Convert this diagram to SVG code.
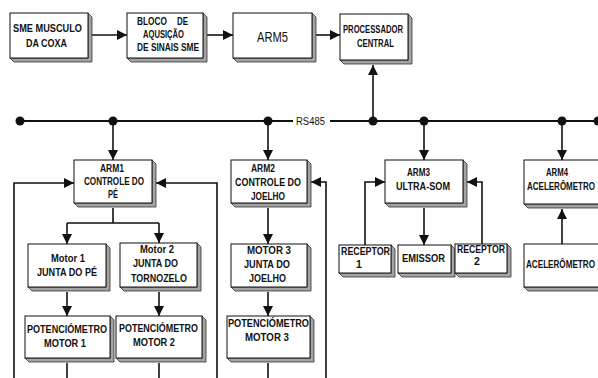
<svg xmlns="http://www.w3.org/2000/svg" width="598" height="378" viewBox="0 0 598 378">
<defs>
<style>
.f{fill:#fff;stroke:#111;stroke-width:1}
.s{fill:#a4a4a4;stroke:#333;stroke-width:0.8}
.t{font-family:"Liberation Sans",Arial,sans-serif;font-weight:bold;font-size:10.5px;fill:#111}
.c{fill:none;stroke:#111;stroke-width:1.6}
.bus{fill:none;stroke:#111;stroke-width:2}
.d{fill:#111}
</style>
<marker id="ah" markerUnits="userSpaceOnUse" markerWidth="10" markerHeight="10" viewBox="0 0 10 10" refX="10" refY="5" orient="auto">
<path d="M0,0 L10,5 L0,10 z" fill="#111"/>
</marker>
</defs>
<rect width="598" height="378" fill="#fff"/>

<g id="connectors">
<path class="c" d="M88,35 H127" marker-end="url(#ah)"/>
<path class="c" d="M207,35 H233" marker-end="url(#ah)"/>
<path class="c" d="M316,35 H340" marker-end="url(#ah)"/>
<path class="c" d="M373,121 V65" marker-end="url(#ah)"/>
<path class="bus" d="M20,121 H293 M330,121 H598"/>
<path class="c" d="M113,121 V160" marker-end="url(#ah)"/>
<path class="c" d="M268,121 V160" marker-end="url(#ah)"/>
<path class="c" d="M424,121 V160" marker-end="url(#ah)"/>
<path class="c" d="M562,121 V160" marker-end="url(#ah)"/>
<path class="c" d="M113,208 V223 M67,223 H159"/>
<path class="c" d="M67,223 V244" marker-end="url(#ah)"/>
<path class="c" d="M159,223 V243" marker-end="url(#ah)"/>
<path class="c" d="M67,292 V316" marker-end="url(#ah)"/>
<path class="c" d="M159,292 V316" marker-end="url(#ah)"/>
<path class="c" d="M67,363 V378 M159,363 V378"/>
<path class="c" d="M14,378 V183 H74" marker-end="url(#ah)"/>
<path class="c" d="M217,378 V183 H156" marker-end="url(#ah)"/>
<path class="c" d="M268,208 V244" marker-end="url(#ah)"/>
<path class="c" d="M268,292 V316" marker-end="url(#ah)"/>
<path class="c" d="M268,363 V378"/>
<path class="c" d="M326,378 V182 H311" marker-end="url(#ah)"/>
<path class="c" d="M424,208 V245" marker-end="url(#ah)"/>
<path class="c" d="M365,245 V182 H385" marker-end="url(#ah)"/>
<path class="c" d="M482,244 V182 H467" marker-end="url(#ah)"/>
<path class="c" d="M562,244 V209" marker-end="url(#ah)"/>
<circle class="d" cx="20" cy="121" r="4.5"/>
<circle class="d" cx="113" cy="121" r="4.5"/>
<circle class="d" cx="268" cy="121" r="4.5"/>
<circle class="d" cx="373" cy="121" r="4.5"/>
<circle class="d" cx="424" cy="121" r="4.5"/>
<circle class="d" cx="562" cy="121" r="4.5"/>
<circle class="d" cx="598" cy="121" r="4.5"/>
<text class="t" x="296" y="125" textLength="29" lengthAdjust="spacingAndGlyphs" style="font-weight:normal;font-size:11.5px">RS485</text>
</g>

<g id="n_sme">
<polygon class="s" points="88,13 92,17 92,62 14,62 10,58 88,58"/>
<rect class="f" x="10" y="13" width="78" height="45"/>
<text class="t" x="13" y="32" textLength="69" lengthAdjust="spacingAndGlyphs" style="font-size:11px">SME MUSCULO</text>
<text class="t" x="26" y="47" textLength="41" lengthAdjust="spacingAndGlyphs" style="font-size:11px">DA COXA</text>
</g>

<g id="n_bloco">
<polygon class="s" points="203,13 207,17 207,62 131,62 127,58 203,58"/>
<rect class="f" x="127" y="13" width="76" height="45"/>
<text class="t" y="25"><tspan x="137" textLength="30" lengthAdjust="spacingAndGlyphs">BLOCO</tspan> <tspan x="177" textLength="11" lengthAdjust="spacingAndGlyphs">DE</tspan></text>
<text class="t" x="143" y="38" textLength="41" lengthAdjust="spacingAndGlyphs">AQUSIÇÃO</text>
<text class="t" x="137" y="51" textLength="62" lengthAdjust="spacingAndGlyphs">DE SINAIS SME</text>
</g>

<g id="n_arm5">
<polygon class="s" points="312,13 316,17 316,62 237,62 233,58 312,58"/>
<rect class="f" x="233" y="13" width="79" height="45"/>
<text class="t" x="257" y="42" textLength="31" lengthAdjust="spacingAndGlyphs" style="font-weight:normal;font-size:14px">ARM5</text>
</g>

<g id="n_proc">
<polygon class="s" points="408,14 412,18 412,64 344,64 340,60 408,60"/>
<rect class="f" x="340" y="14" width="68" height="46"/>
<text class="t" x="343" y="33" textLength="60" lengthAdjust="spacingAndGlyphs" style="font-size:10px">PROCESSADOR</text>
<text class="t" x="357" y="47" textLength="37" lengthAdjust="spacingAndGlyphs" style="font-size:10px">CENTRAL</text>
</g>

<g id="n_arm1">
<polygon class="s" points="152,160 156,164 156,207 78,207 74,203 152,203"/>
<rect class="f" x="74" y="160" width="78" height="43"/>
<text class="t" x="100" y="172" textLength="24" lengthAdjust="spacingAndGlyphs">ARM1</text>
<text class="t" x="84" y="185" textLength="60" lengthAdjust="spacingAndGlyphs">CONTROLE DO</text>
<text class="t" x="108" y="198" textLength="10" lengthAdjust="spacingAndGlyphs">PÉ</text>
</g>

<g id="n_motor1">
<polygon class="s" points="106,244 110,248 110,291 32,291 28,287 106,287"/>
<rect class="f" x="28" y="244" width="78" height="43"/>
<text class="t" x="51" y="262" textLength="34" lengthAdjust="spacingAndGlyphs">Motor 1</text>
<text class="t" x="37" y="276" textLength="60" lengthAdjust="spacingAndGlyphs">JUNTA DO PÉ</text>
</g>

<g id="n_motor2">
<polygon class="s" points="197,243 201,247 201,291 124,291 120,287 197,287"/>
<rect class="f" x="120" y="243" width="77" height="44"/>
<text class="t" x="140" y="253" textLength="34" lengthAdjust="spacingAndGlyphs">Motor 2</text>
<text class="t" x="133" y="267" textLength="45" lengthAdjust="spacingAndGlyphs">JUNTA DO</text>
<text class="t" x="131" y="282" textLength="56" lengthAdjust="spacingAndGlyphs">TORNOZELO</text>
</g>

<g id="n_pot1">
<polygon class="s" points="110,316 114,320 114,362 29,362 25,358 110,358"/>
<rect class="f" x="25" y="316" width="85" height="42"/>
<text class="t" x="27" y="333" textLength="80" lengthAdjust="spacingAndGlyphs" style="font-size:11px">POTENCIÓMETRO</text>
<text class="t" x="44" y="347" textLength="42" lengthAdjust="spacingAndGlyphs" style="font-size:11px">MOTOR 1</text>
</g>

<g id="n_pot2">
<polygon class="s" points="202,316 206,320 206,362 120,362 116,358 202,358"/>
<rect class="f" x="116" y="316" width="86" height="42"/>
<text class="t" x="119" y="332" textLength="79" lengthAdjust="spacingAndGlyphs" style="font-size:11px">POTENCIÓMETRO</text>
<text class="t" x="133" y="346" textLength="42" lengthAdjust="spacingAndGlyphs" style="font-size:11px">MOTOR 2</text>
</g>

<g id="n_arm2">
<polygon class="s" points="307,160 311,164 311,207 235,207 231,203 307,203"/>
<rect class="f" x="231" y="160" width="76" height="43"/>
<text class="t" x="251" y="172" textLength="24" lengthAdjust="spacingAndGlyphs">ARM2</text>
<text class="t" x="235" y="186" textLength="66" lengthAdjust="spacingAndGlyphs">CONTROLE DO</text>
<text class="t" x="251" y="200" textLength="34" lengthAdjust="spacingAndGlyphs">JOELHO</text>
</g>

<g id="n_motor3">
<polygon class="s" points="307,244 311,248 311,291 235,291 231,287 307,287"/>
<rect class="f" x="231" y="244" width="76" height="43"/>
<text class="t" x="247" y="254" textLength="44" lengthAdjust="spacingAndGlyphs">MOTOR 3</text>
<text class="t" x="244" y="268" textLength="46" lengthAdjust="spacingAndGlyphs">JUNTA DO</text>
<text class="t" x="249" y="282" textLength="37" lengthAdjust="spacingAndGlyphs">JOELHO</text>
</g>

<g id="n_pot3">
<polygon class="s" points="310,316 314,320 314,362 231,362 227,358 310,358"/>
<rect class="f" x="227" y="316" width="83" height="42"/>
<text class="t" x="228" y="327" textLength="81" lengthAdjust="spacingAndGlyphs" style="font-size:11px">POTENCIÓMETRO</text>
<text class="t" x="245" y="341" textLength="44" lengthAdjust="spacingAndGlyphs" style="font-size:11px">MOTOR 3</text>
</g>

<g id="n_arm3">
<polygon class="s" points="463,160 467,164 467,207 389,207 385,203 463,203"/>
<rect class="f" x="385" y="160" width="78" height="43"/>
<text class="t" x="407" y="176" textLength="23" lengthAdjust="spacingAndGlyphs">ARM3</text>
<text class="t" x="396" y="190" textLength="54" lengthAdjust="spacingAndGlyphs">ULTRA-SOM</text>
</g>

<g id="n_rec1">
<polygon class="s" points="391,245 395,249 395,277 343,277 339,273 391,273"/>
<rect class="f" x="339" y="245" width="52" height="28"/>
<text class="t" x="341" y="255" textLength="49" lengthAdjust="spacingAndGlyphs">RECEPTOR</text>
<text class="t" x="356" y="268">1</text>
</g>

<g id="n_emissor">
<polygon class="s" points="451,245 455,249 455,277 402,277 398,273 451,273"/>
<rect class="f" x="398" y="245" width="53" height="28"/>
<text class="t" x="402" y="262" textLength="43" lengthAdjust="spacingAndGlyphs">EMISSOR</text>
</g>

<g id="n_rec2">
<polygon class="s" points="507,244 511,248 511,277 459,277 455,273 507,273"/>
<rect class="f" x="455" y="244" width="52" height="29"/>
<text class="t" x="457" y="253" textLength="48" lengthAdjust="spacingAndGlyphs">RECEPTOR</text>
<text class="t" x="474" y="265">2</text>
</g>

<g id="n_arm4">
<polygon class="s" points="614,160 618,164 618,208 528,208 524,204 614,204"/>
<rect class="f" x="524" y="160" width="90" height="44"/>
<text class="t" x="546" y="176" textLength="22" lengthAdjust="spacingAndGlyphs">ARM4</text>
<text class="t" x="527" y="190" textLength="68" lengthAdjust="spacingAndGlyphs">ACELERÔMETRO</text>
</g>

<g id="n_acel">
<polygon class="s" points="614,244 618,248 618,291 528,291 524,287 614,287"/>
<rect class="f" x="524" y="244" width="90" height="43"/>
<text class="t" x="526" y="268" textLength="69" lengthAdjust="spacingAndGlyphs">ACELERÔMETRO</text>
</g>
</svg>
